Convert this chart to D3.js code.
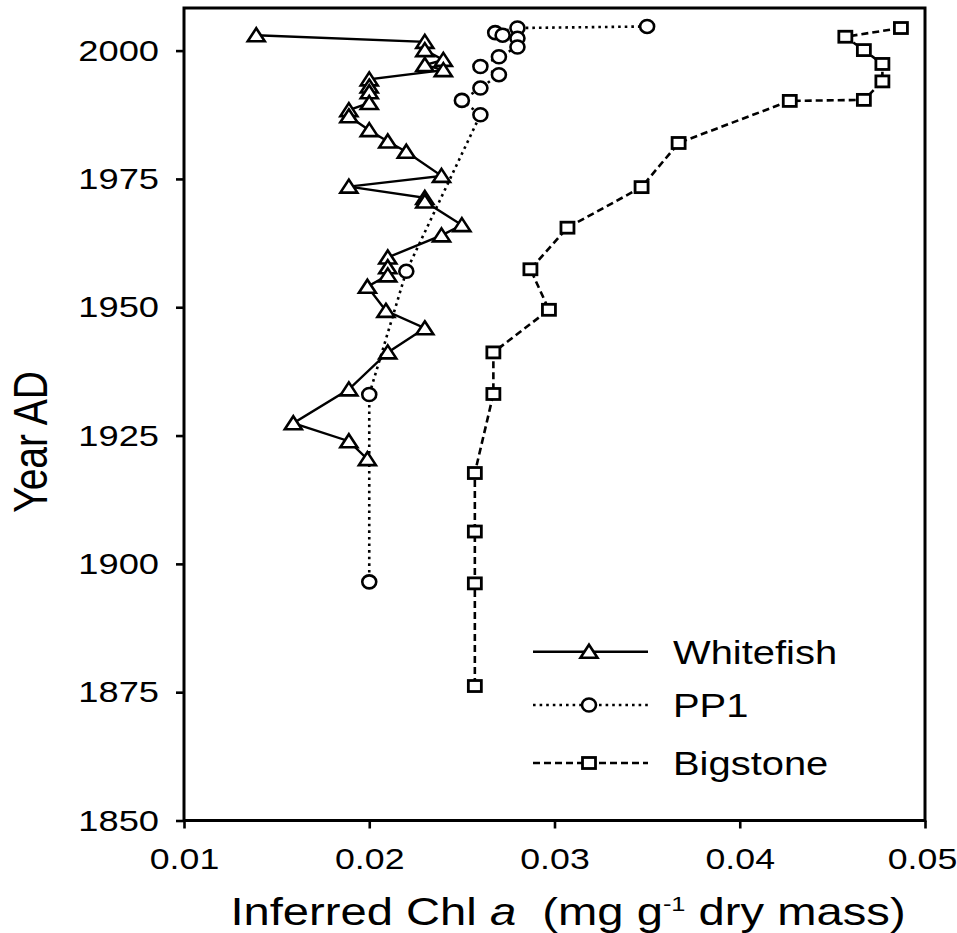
<!DOCTYPE html>
<html>
<head>
<meta charset="utf-8">
<script src="https://cdn.jsdelivr.net/npm/d3@7"></script>
<style>
  html, body { margin: 0; padding: 0; background: #fff; }
  svg { display: block; }
  text { font-family: "Liberation Sans", Arial, sans-serif; fill: #000; }
</style>
</head>
<body>
<svg id="chart" width="957" height="933"></svg>
<script>
// ---- Data (Year AD, inferred Chl a in mg g-1 dry mass) ----
const whitefishYear = [2003.0, 2001.7, 2000.1, 1998.2, 1997.2, 1996.2, 1994.4, 1993.0, 1991.9, 1989.8, 1988.4, 1987.2, 1984.5, 1982.3, 1980.3, 1975.6, 1973.5, 1971.3, 1970.6, 1966.0, 1964.0, 1959.7, 1957.8, 1956.2, 1954.0, 1949.3, 1945.9, 1941.2, 1934.0, 1927.4, 1923.9, 1920.4];
const whitefishChl  = [0.0139, 0.0230, 0.0230, 0.0240, 0.0230, 0.0240, 0.0200, 0.0200, 0.0200, 0.0200, 0.0189, 0.0189, 0.0200, 0.0210, 0.0220, 0.0239, 0.0189, 0.0230, 0.0230, 0.0250, 0.0239, 0.0210, 0.0210, 0.0210, 0.0199, 0.0209, 0.0230, 0.0210, 0.0189, 0.0159, 0.0189, 0.0199];

const pp1Year = [2004.7, 2004.4, 2003.5, 2003.0, 2002.4, 2000.7, 1998.8, 1996.9, 1995.3, 1992.7, 1990.3, 1987.5, 1957.0, 1933.0, 1896.5];
const pp1Chl  = [0.0350, 0.0280, 0.0268, 0.0272, 0.0280, 0.0280, 0.0270, 0.0260, 0.0270, 0.0260, 0.0250, 0.0260, 0.0220, 0.0200, 0.0200];

const bigstoneYear = [2004.4, 2002.7, 2000.1, 1997.4, 1994.0, 1990.4, 1990.2, 1982.0, 1973.4, 1965.5, 1957.4, 1949.5, 1941.2, 1933.1, 1917.7, 1906.3, 1896.2, 1876.2];
const bigstoneChl  = [0.0487, 0.0457, 0.0467, 0.0477, 0.0477, 0.0467, 0.0427, 0.0367, 0.0347, 0.0307, 0.0287, 0.0297, 0.0267, 0.0267, 0.0257, 0.0257, 0.0257, 0.0257];

const seriesNames = ["Whitefish", "PP1", "Bigstone"];
const xTicks = [0.01, 0.02, 0.03, 0.04, 0.05];
const yTicks = [1850, 1875, 1900, 1925, 1950, 1975, 2000];

// ---- Layout ----
const SX = 1.21; // horizontal stretch of the reference text
const svg = d3.select("#chart");
const x = d3.scaleLinear().domain([0.01, 0.05]).range([184, 925]);
const y = d3.scaleLinear().domain([1850, 2008.3]).range([820.5, 8]);

const series = [
  { name: seriesNames[0], years: whitefishYear, vals: whitefishChl, dash: null, marker: "triangle" },
  { name: seriesNames[1], years: pp1Year, vals: pp1Chl, dash: "2.6,4", marker: "circle" },
  { name: seriesNames[2], years: bigstoneYear, vals: bigstoneChl, dash: "7,4", marker: "square" }
];

const line = d3.line().x(d => x(d[1])).y(d => y(d[0]));

function drawMarker(g, type, cx, cy) {
  if (type === "triangle") {
    g.append("path")
      .attr("d", `M${cx},${cy - 7} L${cx + 8.5},${cy + 6} L${cx - 8.5},${cy + 6} Z`)
      .attr("fill", "#fff").attr("stroke", "#000").attr("stroke-width", 2.6)
      .attr("stroke-linejoin", "miter");
  } else if (type === "circle") {
    g.append("ellipse").attr("cx", cx).attr("cy", cy).attr("rx", 7).attr("ry", 6.5)
      .attr("fill", "#fff").attr("stroke", "#000").attr("stroke-width", 2.6);
  } else {
    g.append("rect").attr("x", cx - 6.5).attr("y", cy - 5.5).attr("width", 13).attr("height", 11)
      .attr("fill", "#fff").attr("stroke", "#000").attr("stroke-width", 2.8);
  }
}

// lines
series.forEach(s => {
  const pts = s.years.map((yr, i) => [yr, s.vals[i]]);
  const p = svg.append("path").datum(pts).attr("d", line)
    .attr("fill", "none").attr("stroke", "#000")
    .attr("stroke-width", s.dash === null ? 2.4 : 2.6);
  if (s.dash) p.attr("stroke-dasharray", s.dash);
});
// markers
series.forEach(s => {
  const g = svg.append("g");
  s.years.forEach((yr, i) => drawMarker(g, s.marker, x(s.vals[i]), y(yr)));
});

// frame
svg.append("rect").attr("x", x(0.01)).attr("y", y.range()[1])
  .attr("width", x(0.05) - x(0.01)).attr("height", y.range()[0] - y.range()[1])
  .attr("fill", "none").attr("stroke", "#000").attr("stroke-width", 3);

// y axis
const yAxis = svg.append("g").attr("transform", `translate(${x(0.01)},0)`)
  .call(d3.axisLeft(y).tickValues(yTicks).tickSize(8).tickFormat(d3.format("d")));
yAxis.select(".domain").remove();
yAxis.selectAll("line").attr("stroke-width", 2.6);
yAxis.selectAll("text")
  .attr("x", -25 / SX).attr("transform", `scale(${SX},1)`)
  .style("font-size", "30px").style("font-family", "'Liberation Sans', Arial, sans-serif").attr("fill", "#000");

// x axis
const xAxis = svg.append("g").attr("transform", `translate(0,${y(1850)})`)
  .call(d3.axisBottom(x).tickValues(xTicks).tickSize(8).tickFormat(d3.format(".2f")));
xAxis.select(".domain").remove();
xAxis.selectAll("line").attr("stroke-width", 2.6);
xAxis.selectAll(".tick text")
  .attr("y", 28).attr("transform", `scale(${SX},1)`)
  .attr("x", (d, i) => i === xTicks.length - 1 ? -3 / SX : 0)
  .style("font-size", "29.5px").style("font-family", "'Liberation Sans', Arial, sans-serif").attr("fill", "#000");

// axis titles
svg.append("text")
  .attr("transform", `translate(47,442) scale(${SX},1) rotate(-90)`)
  .attr("text-anchor", "middle").style("font-size", "39px").text("Year AD");

const xt = svg.append("text")
  .attr("transform", `translate(568,925) scale(${SX},1)`)
  .attr("text-anchor", "middle").style("font-size", "39px");
xt.append("tspan").text("Inferred Chl ");
xt.append("tspan").style("font-style", "italic").text("a");
xt.append("tspan").text("\u00a0 (mg g");
xt.append("tspan").attr("dy", -14).style("font-size", "21px").text("-1");
xt.append("tspan").attr("dy", 14).text(" dry mass)");

// legend
const legendY = [651.7, 705, 763];
series.forEach((s, i) => {
  const g = svg.append("g");
  const ln = g.append("line").attr("x1", 533).attr("x2", 648)
    .attr("y1", legendY[i]).attr("y2", legendY[i])
    .attr("stroke", "#000").attr("stroke-width", s.dash === null ? 2.4 : 2.6);
  if (s.dash) ln.attr("stroke-dasharray", s.dash);
  drawMarker(g, s.marker, 589, legendY[i]);
  g.append("text").attr("transform", `translate(673,${legendY[i] + 12}) scale(${SX},1)`)
    .style("font-size", "33px").text(s.name);
});
</script>
</body>
</html>
